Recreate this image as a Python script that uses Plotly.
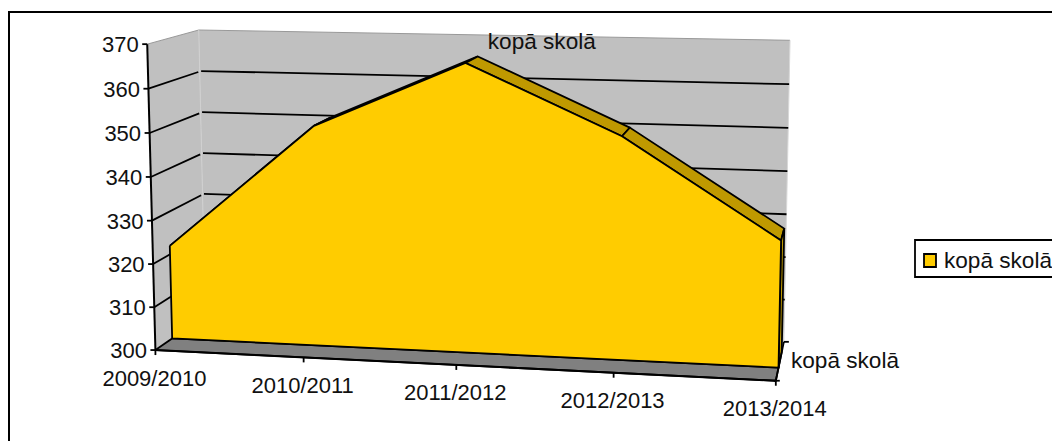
import numpy as np
import plotly.graph_objects as go

# ---- data ----
categories = ["2009/2010", "2010/2011", "2011/2012", "2012/2013", "2013/2014"]
values = [322, 351, 366, 350.5, 328.5]
value_ticks = [300, 310, 320, 330, 340, 350, 360, 370]
series_name = "kopā skolā"

# ---- styles ----
FONT = dict(family="Liberation Sans, Arial, sans-serif", size=22, color="#111111")
FONT_NAME = dict(family="Liberation Sans, Arial, sans-serif", size=22.6, color="#111111")
WALL, FLOOR, FRONT, SIDE = "#C0C0C0", "#808080", "#FFCC00", "#BF9900"
LW = 1.8

# ---- oblique chart box: (category, value, depth) -> page position ----
calib = [((0, 0, 0), (156, 350)), ((0, 1, 0), (147, 44)), ((0, 1, 1), (199, 29.5)),
         ((0, 0, 1), (205, 316)), ((1, 0, 0), (777, 381)), ((1, 0, 1), (784, 341)),
         ((1, 1, 1), (790, 41)), ((.25, 0, 0), (304, 357.5)), ((.5, 0, 0), (456, 365)),
         ((.75, 0, 0), (612, 372.5))]
rows = []
rhs = []
for (u, v, w), (x, y) in calib:
    rows.append([u, v, w, 1, 0, 0, 0, 0, -x*u, -x*v, -x*w]); rhs.append(x)
    rows.append([0, 0, 0, 0, u, v, w, 1, -y*u, -y*v, -y*w]); rhs.append(y)
P = np.append(np.linalg.lstsq(np.array(rows, float), np.array(rhs, float), rcond=None)[0], 1).reshape(3, 4)


def proj(u, v, w):
    q = P @ np.array([u, v, w, 1.0])
    return q[0] / q[2], q[1] / q[2]


VMIN, VMAX = value_ticks[0], value_ticks[-1]
vn = lambda val: (val - VMIN) / (VMAX - VMIN)
un = lambda i: i / (len(categories) - 1)
W0, W1 = 0.32, 0.72

fig = go.Figure()


def poly(pts, fill=None, line="black", width=LW, close=True):
    xy = [proj(*p) for p in pts]
    if close:
        xy.append(xy[0])
    fig.add_trace(go.Scatter(
        x=[a for a, _ in xy], y=[b for _, b in xy], mode="lines" if width else "none",
        fill="toself" if fill else None, fillcolor=fill,
        line=dict(color=line, width=width), hoverinfo="skip", showlegend=False))


# walls
poly([(0, 0, 0), (0, 1, 0), (0, 1, 1), (0, 0, 1)], WALL, width=0)
poly([(0, 0, 1), (0, 1, 1), (1, 1, 1), (1, 0, 1)], WALL, width=0)
poly([(0, 1, 0), (0, 1, 1), (1, 1, 1)], None, "#999999", 1, close=False)
poly([(0, 1, 1), (0, 0, 1)], None, "#D0D0D0", 1, close=False)
poly([(1, 1, 1), (1, 0, 1)], None, "#D8D8D8", 1, close=False)

# gridlines
for t in value_ticks[1:-1]:
    v = vn(t)
    poly([(0, v, 0), (0, v, 0.97)], None, "black", LW, close=False)
    poly([(0, v, 1.03), (1, v, 1)], None, "black", LW, close=False)

# floor in front of the area
poly([(0, 0, 0), (1, 0, 0), (1, 0, W0), (0, 0, W0)], FLOOR, "black", LW)

# ribbon top and side of the area
for i in range(len(values) - 1):
    a, b = vn(values[i]), vn(values[i + 1])
    poly([(un(i), a, W0), (un(i + 1), b, W0), (un(i + 1), b, W1), (un(i), a, W1)], SIDE)
last = vn(values[-1])
poly([(1, last, W0), (1, last, W1), (1, 0, W1), (1, 0, W0)], SIDE)

# front face of the area
front = [(un(i), vn(val), W0) for i, val in enumerate(values)]
poly(front + [(1, 0, W0), (0, 0, W0)], FRONT)

# axes
poly([(0, 0, 0), (0, 1, 0)], None, "black", 2, close=False)
poly([(0, 0, 0), (1, 0, 0)], None, "black", 2, close=False)
poly([(1, 0, 0), (1, 0, 1)], None, "black", LW, close=False)

shapes = []
tx, ty, tt = [], [], []
for t in value_ticks:
    x, y = proj(0, vn(t), 0)
    shapes.append(dict(type="line", x0=x - 5, x1=x, y0=y, y1=y, line=dict(color="black", width=LW)))
    tx.append(x - 8.5); ty.append(y + 2.5); tt.append(str(t))
fig.add_trace(go.Scatter(x=tx, y=ty, text=tt, mode="text", textposition="middle left",
                         textfont=FONT, hoverinfo="skip", showlegend=False))

cx, cy = [], []
for i, c in enumerate(categories):
    x, y = proj(un(i), 0, 0)
    shapes.append(dict(type="line", x0=x, x1=x, y0=y, y1=y + 5, line=dict(color="black", width=LW)))
    cx.append(x - 1); cy.append(y + 30)
fig.add_trace(go.Scatter(x=cx, y=cy, text=categories, mode="text", textposition="middle center",
                         textfont=FONT, hoverinfo="skip", showlegend=False))

# depth axis ticks and label
x, y = proj(1, 0, 0)
shapes.append(dict(type="line", x0=x - 2, x1=x + 4, y0=y, y1=y, line=dict(color="black", width=LW)))
x, y = proj(1, 0, 1)
shapes.append(dict(type="line", x0=x, x1=x + 5, y0=y, y1=y, line=dict(color="black", width=LW)))
dx, dy = proj(1, 0, 0.5)
fig.add_trace(go.Scatter(x=[dx + 11], y=[dy + 2], text=[series_name], mode="text", textposition="middle right",
                         textfont=FONT_NAME, hoverinfo="skip", showlegend=False))

# data label on the peak
px, py = proj(un(2), vn(values[2]), W1)
fig.add_trace(go.Scatter(x=[px + 10], y=[py - 13], text=[series_name], mode="text", textposition="middle right",
                         textfont=FONT_NAME, hoverinfo="skip", showlegend=False))

# chart border and legend
shapes.append(dict(type="rect", x0=9, y0=12, x1=1080, y1=460, line=dict(color="black", width=2), layer="below"))
shapes.append(dict(type="rect", x0=915, y0=240, x1=1080, y1=277, line=dict(color="black", width=LW)))
shapes.append(dict(type="rect", x0=924, y0=254, x1=936, y1=267, fillcolor=FRONT, line=dict(color="black", width=LW)))
fig.add_trace(go.Scatter(x=[944], y=[262], text=[series_name], mode="text", textposition="middle right",
                         textfont=FONT_NAME, hoverinfo="skip", showlegend=False))

# the page adds an 8 px body margin, so the plot area starts at page position 8
fig.update_layout(
    width=1052, height=433, margin=dict(l=0, r=0, t=0, b=0), showlegend=False,
    paper_bgcolor="white", plot_bgcolor="white", shapes=shapes,
    xaxis=dict(range=[8, 1060], visible=False, fixedrange=True),
    yaxis=dict(range=[441, 8], visible=False, fixedrange=True),
)
fig.write_html("out.html")
